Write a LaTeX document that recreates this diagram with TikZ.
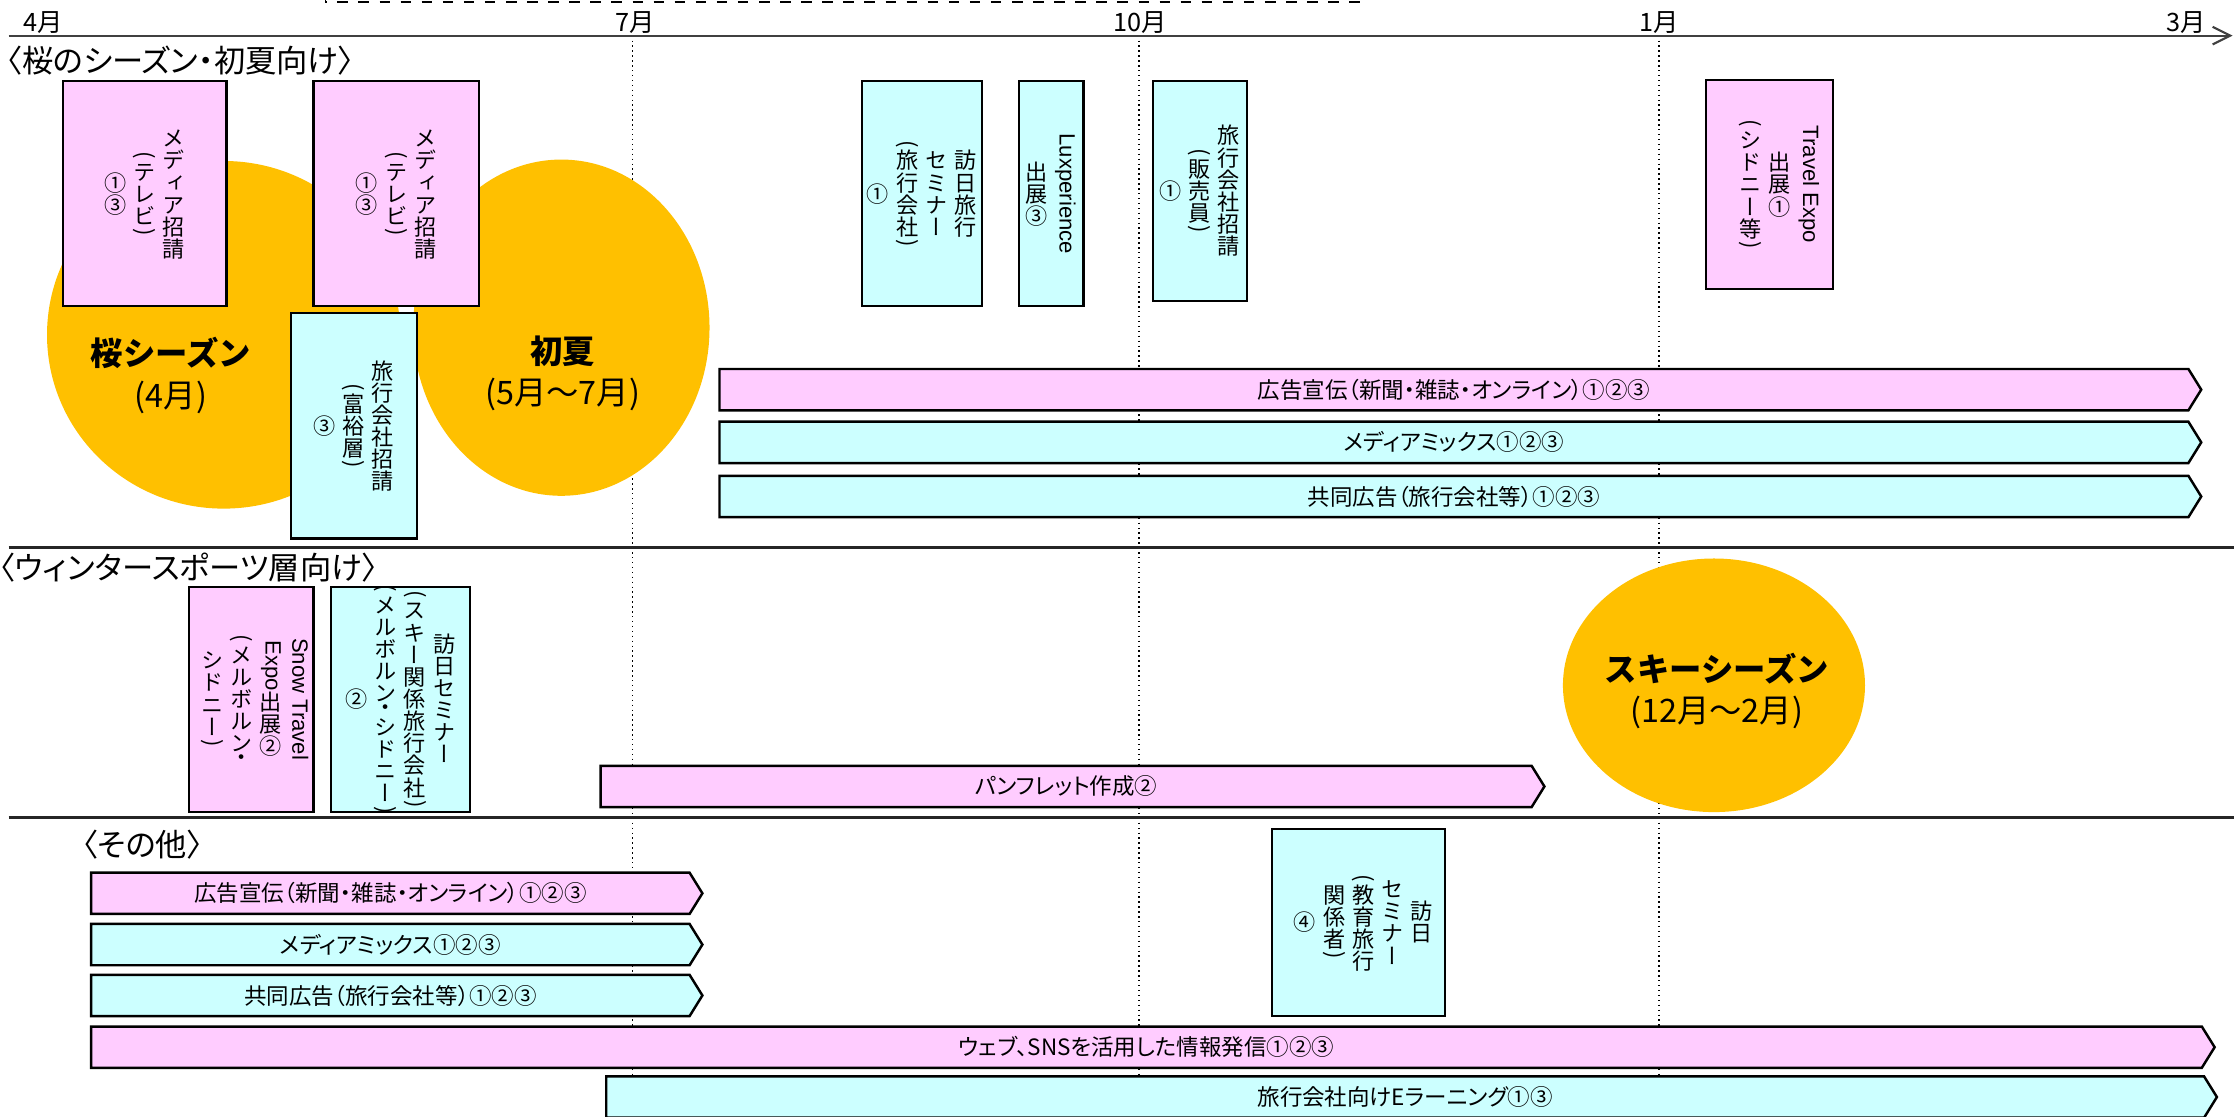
\documentclass[tikz,border=0pt]{standalone}
\usepackage{fontspec}
\setmainfont{Noto Sans CJK JP}
\newfontfamily\jpv[RawFeature=+vert]{Noto Sans CJK JP}
\newfontfamily\jpp[RawFeature=+palt]{Noto Sans CJK JP}
\newfontfamily\latfont{Liberation Sans}
\usepackage{graphicx}
\usepackage{tikz}
\usetikzlibrary{arrows.meta}
\definecolor{pinkfill}{HTML}{FFCCFF}
\definecolor{cyanfill}{HTML}{CCFFFF}
\definecolor{season}{HTML}{FFC000}
\definecolor{axisgray}{HTML}{404040}
\ExplSyntaxOn
\tl_new:N \l__tate_cols_tl
\box_new:N \l__tate_glyph_box
\dim_new:N \l__tate_shift_dim
\cs_new_protected:Npn \__tate_half:n #1
  {
    \hbox_set:Nn \l__tate_glyph_box {#1}
    \dim_set:Nn \l__tate_shift_dim
      { .13em - ( \box_ht:N \l__tate_glyph_box - \box_dp:N \l__tate_glyph_box ) / 2 }
    \hbox_to_wd:nn { 1em }
      {
        \hss \vrule~height~.38em~depth~.12em~width~0pt \relax
        \raisebox { \l__tate_shift_dim } [ 0pt ] [ 0pt ] { \box_use:N \l__tate_glyph_box }
        \hss
      }
  }
\cs_new_protected:Npn \__tate_cell:n #1
  {
    \tl_if_single_token:nTF {#1}
      {
        \str_case:nnF {#1}
          {
            { （ } { \__tate_half:n { \rotatebox {-90} { \jpp ( } } }
            { ） } { \__tate_half:n { \rotatebox {-90} { \jpp ) } } }
            { ・ } { \__tate_half:n {#1} }
          }
          { \hbox_to_wd:nn { 1em } { \hss \vrule~height~.88em~depth~.12em~width~0pt \relax \smash {#1} \hss } }
      }
      { \hbox_to_wd:nn { 1em } { \hss \rotatebox {-90} { \latfont #1 } \hss } }
  }
\NewDocumentCommand \tcol { m }
  {
    $ \vcenter
      {
        \baselineskip = 0pt
        \lineskip = 0pt
        \lineskiplimit = 0pt
        \tl_map_inline:nn {#1} { \__tate_cell:n {##1} }
      } $
  }
\NewDocumentCommand \tate { m }
  {
    \tl_set:Nn \l__tate_cols_tl {#1}
    \tl_reverse:N \l__tate_cols_tl
    \hbox:n
      {
        \tl_map_inline:Nn \l__tate_cols_tl { \tcol {##1} \hskip .32em \relax }
        \unskip
      }
  }
\ExplSyntaxOff
\tikzset{
  axisline/.style={draw=axisgray, line width=0.6pt},
  sepline/.style={draw=black!85, line width=0.9pt},
  monthline/.style={draw=black, line width=0.4pt, densely dotted},
  pinkbox/.style={draw=black, fill=pinkfill, line width=0.6pt},
  cyanbox/.style={draw=black, fill=cyanfill, line width=0.6pt},
  barline/.style={draw=black, line width=0.7pt, line join=miter},
  vtext/.style={inner sep=0pt, font=\jpv\fontsize{6.3}{7}\selectfont},
  bartext/.style={inner sep=0pt, font=\jpp\fontsize{6.4}{7}\selectfont},
  heading/.style={anchor=west, inner sep=0pt, font=\jpp\fontsize{8.9}{10}\selectfont},
  month/.style={anchor=south, inner sep=0.5pt, font=\fontsize{7.2}{8}\selectfont},
  seasonlab/.style={align=center, inner sep=0pt, font=\fontsize{9.2}{11.8}\selectfont},
}

\begin{document}
\begin{tikzpicture}[x=0.014247cm, y=-0.014247cm]
  \useasboundingbox (0,0) rectangle (1568,784);
  \foreach \mx in {444,799.5,1164.5}
    \draw[monthline] (\mx,25) -- (\mx,790);
  \fill[season] (157,235) ellipse [x radius=124, y radius=122];
  \fill[season] (394,230) ellipse [x radius=104, y radius=118];
  \fill[season] (1203,481) ellipse [x radius=106, y radius=89];
  \node[seasonlab] (sakura) at (120,263.5) {\textbf{桜シーズン}\\(4月)};
  \node[seasonlab] (shoka) at (395,262) {\textbf{初夏}\\(5月～7月)};
  \node[seasonlab] (ski) at (1205,485) {\textbf{スキーシーズン}\\(12月～2月)};

  \draw[dashed, line width=0.5pt] (228.5,-5) -- (228.5,1.5) -- (957,1.5) -- (957,-5);
  \draw[axisline, -{Straight Barb[length=5pt, width=5pt]}] (6,25) -- (1567,25);
  \foreach \mx/\mlab [count=\i] in {30/4月, 445.5/7月, 800/10月, 1164.5/1月, 1534.5/3月}
    \node[month] (m\i) at (\mx,25) {\mlab};
  \draw[sepline] (6,384) -- (1568,384);
  \draw[sepline] (6,573.5) -- (1568,573.5);

  \draw[pinkbox] (44,57) rectangle (159,215);
  \node[vtext] (mediaA) at (101.5,136) {\tate{{メディア招請}{（テレビ）}{①③}}};
  \draw[pinkbox] (220,57) rectangle (336,215);
  \node[vtext] (mediaB) at (278,136) {\tate{{メディア招請}{（テレビ）}{①③}}};
  \draw[cyanbox] (204,219.5) rectangle (292.5,378);
  \node[vtext] (agentRich) at (248,299) {\tate{{旅行会社招請}{（富裕層）}{③}}};
  \draw[cyanbox] (605,57) rectangle (689,215);
  \node[vtext] (seminarA) at (647,136) {\tate{{訪日旅行}{セミナー}{（旅行会社）}{①}}};
  \draw[cyanbox] (715,57) rectangle (760.5,215);
  \node[vtext] (luxp) at (737.5,136) {\tate{{{Luxperience}}{出展③}}};
  \draw[cyanbox] (809,57) rectangle (875,211);
  \node[vtext] (agentSales) at (842,134) {\tate{{旅行会社招請}{（販売員）}{①}}};
  \draw[pinkbox] (1197.5,56) rectangle (1286.6,203);
  \node[vtext] (travelExpo) at (1249,129.5) {\tate{{{Travel Expo}}{出展①}{（シドニー等）}}};
  \draw[pinkbox] (132.5,411.7) rectangle (220,569.7);
  \node[vtext] (snowExpo) at (180,490.7) {\tate{{{Snow Travel}}{{Expo}出展②}{（メルボルン・}{シドニー）}}};
  \draw[cyanbox] (232.5,411.7) rectangle (330,569.7);
  \node[vtext] (seminarSki) at (281,490.7) {\tate{{訪日セミナー}{（スキー関係旅行会社）}{（メルボルン・シドニー）}{②}}};
  \draw[cyanbox] (892.5,582) rectangle (1014,713);
  \node[vtext] (seminarEdu) at (957,647.5) {\tate{{訪日}{セミナー}{（教育旅行}{関係者）}{④}}};

  \foreach \xa/\xb/\yt/\col/\nm/\txt in {
      505/1536/259/pinkfill/adA/{広告宣伝（新聞・雑誌・オンライン）①②③},
      505/1536/296/cyanfill/mixA/{メディアミックス①②③},
      505/1536/334/cyanfill/jointA/{共同広告（旅行会社等）①②③},
      421.5/1075/537.5/pinkfill/leaflet/{パンフレット作成②},
      64/484/612.5/pinkfill/adB/{広告宣伝（新聞・雑誌・オンライン）①②③},
      64/484/648.5/cyanfill/mixB/{メディアミックス①②③},
      64/484/684.2/cyanfill/jointB/{共同広告（旅行会社等）①②③},
      64/1545.4/720.5/pinkfill/web/{ウェブ、SNSを活用した情報発信①②③},
      425.5/1547/755.5/cyanfill/elearn/{旅行会社向けEラーニング①③}} {
    \draw[barline, fill=\col] (\xa,\yt) -- (\xb,\yt) -- (\xb+9,\yt+14.5) -- (\xb,\yt+29) -- (\xa,\yt+29) -- cycle;
    \node[bartext] (\nm) at ({(\xa+\xb)/2},\yt+14.5) {\txt};
  }

  \node[heading] (hsakura) at (4,42.5) {〈桜のシーズン・初夏向け〉};
  \node[heading] (hwinter) at (-1,398.5) {〈ウィンタースポーツ層向け〉};
  \node[heading] (hother) at (57,593) {〈その他〉};
\end{tikzpicture}
\end{document}
